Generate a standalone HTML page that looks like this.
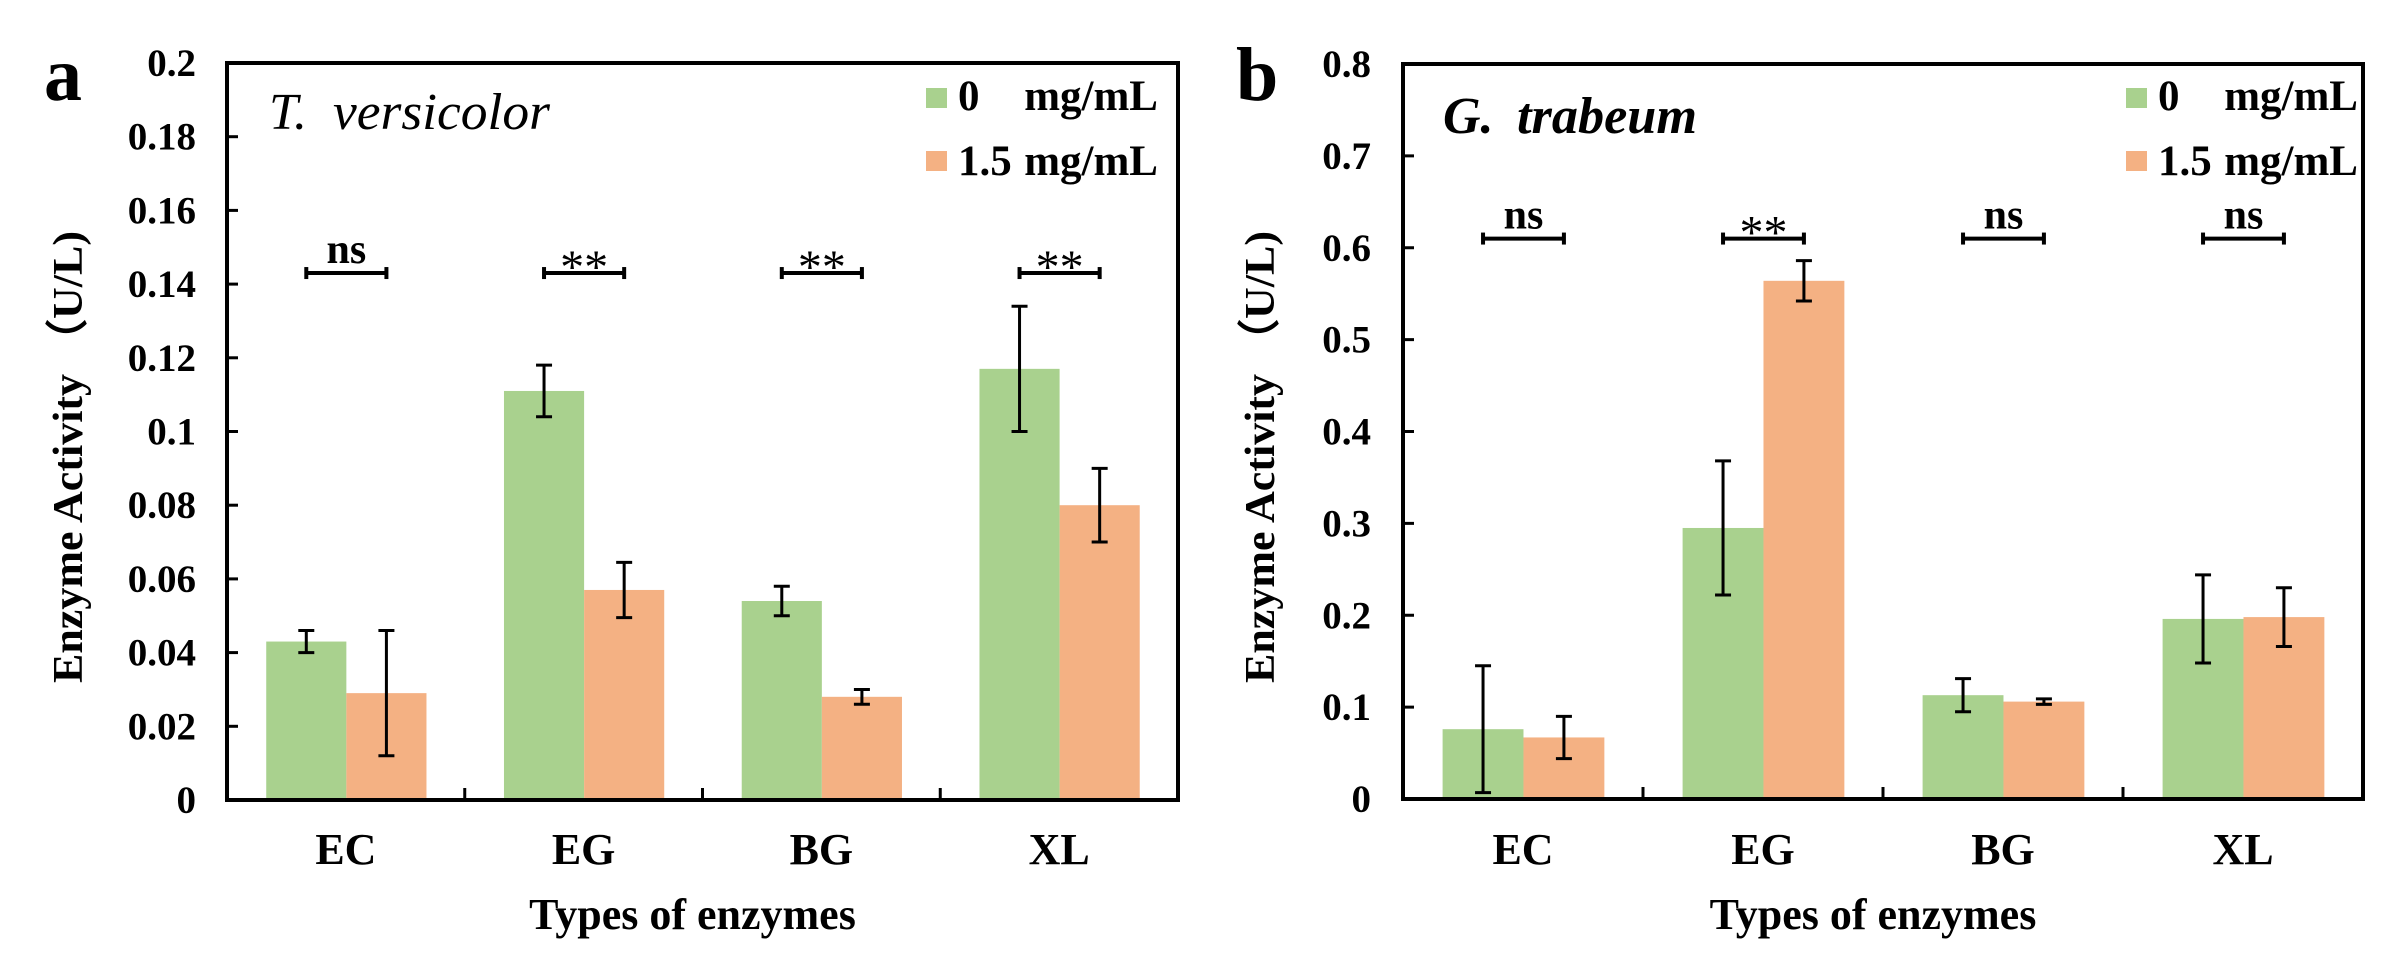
<!DOCTYPE html>
<html><head><meta charset="utf-8"><style>
html,body{margin:0;padding:0;background:#fff;}
svg{display:block;}
text{font-family:"Liberation Serif","Times New Roman",serif;fill:#000;}
</style></head><body>
<svg id="fig" width="2390" height="960" viewBox="0 0 2390 960" xmlns="http://www.w3.org/2000/svg">
<g id="pa"></g>
<g id="pb"></g>
</svg>
<script>
const categories = ["EC","EG","BG","XL"];
const seriesLead = ["0","1.5"];
const seriesUnit = "mg/mL";
const aControl = [0.043,0.111,0.054,0.117];
const aControlErr = [0.003,0.007,0.004,0.017];
const aTreated = [0.029,0.057,0.028,0.080];
const aTreatedErr = [0.017,0.0075,0.002,0.010];
const aSig = ["ns","**","**","**"];
const aSigLevel = 0.143;
const aTicks = ["0","0.02","0.04","0.06","0.08","0.1","0.12","0.14","0.16","0.18","0.2"];
const bControl = [0.076,0.295,0.113,0.196];
const bControlErr = [0.069,0.073,0.018,0.048];
const bTreated = [0.067,0.564,0.106,0.198];
const bTreatedErr = [0.023,0.022,0.003,0.032];
const bSig = ["ns","**","ns","ns"];
const bSigLevel = 0.61;
const bTicks = ["0","0.1","0.2","0.3","0.4","0.5","0.6","0.7","0.8"];

const NS="http://www.w3.org/2000/svg";
function mk(parent,tag,attrs,txt){const e=document.createElementNS(NS,tag);for(const k in attrs)e.setAttribute(k,attrs[k]);if(txt!==undefined)e.textContent=txt;parent.appendChild(e);return e;}

function panel(g,cfg){
  const L=cfg.left,R=cfg.right,T=cfg.top,B=cfg.bottom,ymax=cfg.ymax;
  const y=v=>B-(v/ymax)*(B-T);
  const gw=(R-L)/categories.length;
  const bw=gw*0.337;
  const x0=i=>L+gw*i+gw*0.165;
  const series=[[cfg.c,cfg.ce,"#a9d18e","control"],[cfg.t,cfg.te,"#f4b183","treated"]];
  series.forEach((s,si)=>{
    s[0].forEach((v,i)=>{
      const bx=x0(i)+si*bw;
      const r=mk(g,'rect',{x:bx,y:y(v),width:bw,height:B-y(v),fill:s[2]});
      
      
    });
  });
  series.forEach((s,si)=>{
    s[0].forEach((v,i)=>{
      const cx=x0(i)+si*bw+bw/2;
      const e=s[1][i];
      const eg=mk(g,'g',{stroke:'#000','stroke-width':3});
      
      
      mk(eg,'line',{x1:cx,x2:cx,y1:y(v+e),y2:y(v-e)});
      mk(eg,'line',{x1:cx-8,x2:cx+8,y1:y(v+e),y2:y(v+e)});
      mk(eg,'line',{x1:cx-8,x2:cx+8,y1:y(v-e),y2:y(v-e)});
    });
  });
  cfg.sig.forEach((s,i)=>{
    const a=x0(i)+bw/2,b=x0(i)+bw*1.5,yy=y(cfg.sigLevel);
    const sg=mk(g,'g',{});
    
    
    mk(sg,'line',{x1:a,x2:b,y1:yy,y2:yy,stroke:'#000','stroke-width':4});
    mk(sg,'line',{x1:a,x2:a,y1:yy-6,y2:yy+6,stroke:'#000','stroke-width':4});
    mk(sg,'line',{x1:b,x2:b,y1:yy-6,y2:yy+6,stroke:'#000','stroke-width':4});
    if(s==='ns') mk(sg,'text',{x:(a+b)/2,y:yy-10,'text-anchor':'middle','font-size':42,'font-weight':'bold'},s);
    else mk(sg,'text',{x:(a+b)/2,y:yy+10,'text-anchor':'middle','font-size':48},s);
  });
  const fr=mk(g,'rect',{x:L,y:T,width:R-L,height:B-T,fill:'none',stroke:'#000','stroke-width':4});
  
  
  cfg.ticks.forEach((t,i)=>{
    const v=i*cfg.step,yy=y(v);
    if(i>0&&i<cfg.ticks.length-1) mk(g,'line',{x1:L,x2:L+11,y1:yy,y2:yy,stroke:'#000','stroke-width':3});
    const tl=mk(g,'text',{x:cfg.tickRight,y:yy+13,'text-anchor':'end','font-size':39,'font-weight':'bold'},t);
    
    
  });
  categories.forEach((c,i)=>{
    if(i>0) mk(g,'line',{x1:L+gw*i,x2:L+gw*i,y1:B,y2:B-12,stroke:'#000','stroke-width':3});
    const xl=mk(g,'text',{x:L+gw*i+gw/2,y:864,'text-anchor':'middle','font-size':44,'font-weight':'bold'},c);
    
    
  });
  const xt=mk(g,'text',{x:(L+R)/2-10,y:929,'text-anchor':'middle','font-size':44,'font-weight':'bold'},'Types of enzymes');
  
  
  const yt=mk(g,'text',{x:0,y:0,'text-anchor':'middle','font-size':42,'font-weight':'bold',transform:`translate(${cfg.ytx},457) rotate(-90)`,textLength:452,lengthAdjust:'spacingAndGlyphs'},'Enzyme Activity （U/L)');
  
  
  const lg=mk(g,'g',{});
  
  
  [["#a9d18e",88,110],["#f4b183",151,175]].forEach((r,k)=>{
    mk(lg,'rect',{x:cfg.legX,y:r[1],width:21,height:20,fill:r[0]});
    mk(lg,'text',{x:cfg.legX+32,y:r[2],'font-size':43,'font-weight':'bold'},seriesLead[k]);
    mk(lg,'text',{x:cfg.legX+232,y:r[2],'font-size':43,'font-weight':'bold','text-anchor':'end'},seriesUnit);
  });
  const ti=mk(g,'g',{});
  
  
  mk(ti,'text',{x:cfg.titleX,y:cfg.titleY,'font-size':52,'font-style':'italic','font-weight':cfg.titleW},cfg.title[0]);
  mk(ti,'text',{x:cfg.title2X,y:cfg.titleY,'font-size':52,'font-style':'italic','font-weight':cfg.titleW,textLength:cfg.title2Len,lengthAdjust:'spacingAndGlyphs'},cfg.title[1]);
  const pl=mk(g,'text',{x:cfg.letterX,y:100,'font-size':76,'font-weight':'bold'},cfg.letter);
  
  
}
panel(document.getElementById('pa'),{left:227,right:1178,top:63,bottom:800,ymax:0.2,step:0.02,c:aControl,ce:aControlErr,t:aTreated,te:aTreatedErr,sig:aSig,sigLevel:aSigLevel,ticks:aTicks,tickRight:196,ytx:82,legX:926,title:['T.','versicolor'],titleX:269,title2X:333,title2Len:217,titleY:129,titleW:'normal',letter:'a',letterX:44});
panel(document.getElementById('pb'),{left:1403,right:2363,top:64,bottom:799,ymax:0.8,step:0.1,c:bControl,ce:bControlErr,t:bTreated,te:bTreatedErr,sig:bSig,sigLevel:bSigLevel,ticks:bTicks,tickRight:1371,ytx:1274,legX:2126,title:['G.','trabeum'],titleX:1443,title2X:1517,title2Len:180,titleY:133,titleW:'bold',letter:'b',letterX:1236});
</script>
</body></html>
